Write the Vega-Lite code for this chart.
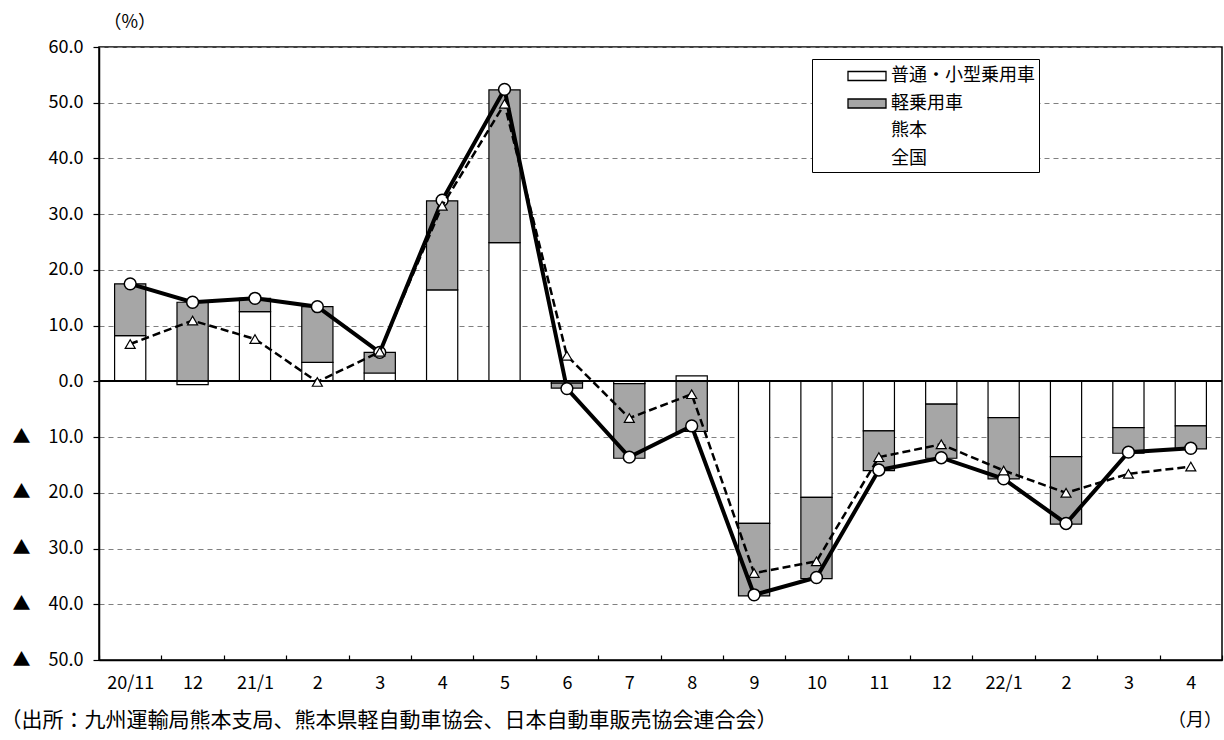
{
  "$schema": "https://vega.github.io/schema/vega-lite/v6.json",
  "width": 1123,
  "height": 613,
  "autosize": {"type": "none"},
  "padding": {"left": 99, "top": 47, "right": 2, "bottom": 80},
  "background": "white",
  "title": {
    "text": "（月）",
    "orient": "bottom",
    "anchor": "end",
    "frame": "group",
    "fontSize": 18,
    "fontWeight": "normal",
    "baseline": "top",
    "offset": -18
  },
  "config": {
    "font": "Noto Sans CJK JP",
    "view": {"stroke": "black", "strokeWidth": 1.5}
  },
  "data": {
    "values": [
      {"month": "20/11", "普通・小型乗用車": 8.2, "軽乗用車": 9.3, "熊本": 17.5, "全国": 6.7},
      {"month": "20/12", "普通・小型乗用車": -0.6, "軽乗用車": 14.2, "熊本": 14.2, "全国": 10.9},
      {"month": "21/1", "普通・小型乗用車": 12.5, "軽乗用車": 2.4, "熊本": 14.9, "全国": 7.6},
      {"month": "21/2", "普通・小型乗用車": 3.4, "軽乗用車": 10.0, "熊本": 13.4, "全国": -0.1},
      {"month": "21/3", "普通・小型乗用車": 1.5, "軽乗用車": 3.7, "熊本": 5.2, "全国": 5.3},
      {"month": "21/4", "普通・小型乗用車": 16.4, "軽乗用車": 16.0, "熊本": 32.5, "全国": 31.5},
      {"month": "21/5", "普通・小型乗用車": 24.9, "軽乗用車": 27.4, "熊本": 52.4, "全国": 49.8},
      {"month": "21/6", "普通・小型乗用車": -0.3, "軽乗用車": -0.9, "熊本": -1.3, "全国": 4.6},
      {"month": "21/7", "普通・小型乗用車": -0.4, "軽乗用車": -13.4, "熊本": -13.6, "全国": -6.6},
      {"month": "21/8", "普通・小型乗用車": 1.0, "軽乗用車": -9.0, "熊本": -8.0, "全国": -2.3},
      {"month": "21/9", "普通・小型乗用車": -25.5, "軽乗用車": -13.0, "熊本": -38.3, "全国": -34.4},
      {"month": "21/10", "普通・小型乗用車": -20.8, "軽乗用車": -14.6, "熊本": -35.2, "全国": -32.3},
      {"month": "21/11", "普通・小型乗用車": -8.9, "軽乗用車": -7.1, "熊本": -15.9, "全国": -13.6},
      {"month": "21/12", "普通・小型乗用車": -4.1, "軽乗用車": -9.7, "熊本": -13.7, "全国": -11.3},
      {"month": "22/1", "普通・小型乗用車": -6.5, "軽乗用車": -11.0, "熊本": -17.5, "全国": -16.0},
      {"month": "22/2", "普通・小型乗用車": -13.5, "軽乗用車": -12.1, "熊本": -25.5, "全国": -20.0},
      {"month": "22/3", "普通・小型乗用車": -8.3, "軽乗用車": -4.6, "熊本": -12.7, "全国": -16.6},
      {"month": "22/4", "普通・小型乗用車": -8.0, "軽乗用車": -4.1, "熊本": -12.0, "全国": -15.3}
    ]
  },
  "encoding": {
    "x": {
      "field": "month",
      "type": "nominal",
      "sort": null,
      "scale": {"paddingInner": 0, "paddingOuter": 0},
      "axis": {
        "labelAngle": 0,
        "labelExpr": "(datum.value == '20/11' || split(datum.value, '/')[1] == '1') ? datum.value : split(datum.value, '/')[1]",
        "labelFontSize": 18,
        "labelColor": "black",
        "labelPadding": 19,
        "tickBand": "extent",
        "tickSize": -5,
        "tickColor": "black",
        "tickWidth": 1.2,
        "domainColor": "black",
        "domainWidth": 1.5,
        "title": "（出所：九州運輸局熊本支局、熊本県軽自動車協会、日本自動車販売協会連合会）",
        "titleFontSize": 21,
        "titleFontWeight": "normal",
        "titleAlign": "left",
        "titleBaseline": "middle",
        "titleX": -99,
        "titleY": 60,
        "titleColor": "black"
      }
    }
  },
  "layer": [
    {
      "transform": [{"fold": ["普通・小型乗用車", "軽乗用車"], "as": ["series", "value"]}],
      "mark": {"type": "bar", "width": {"band": 0.5}, "stroke": "black", "strokeWidth": 1.2},
      "encoding": {
        "y": {
          "field": "value",
          "type": "quantitative",
          "stack": "zero",
          "scale": {"domain": [-50, 60], "nice": false, "zero": false},
          "axis": {"values": [-50, -40, -30, -20, -10, 0, 10, 20, 30, 40, 50, 60], "labelExpr": "datum.value < 0 ? '▲　' + format(-datum.value, '.1f') : format(datum.value, '.1f')", "labelFontSize": 18, "labelColor": "black", "labelPadding": 10, "tickSize": 6, "tickColor": "black", "tickWidth": 1.2, "domainColor": "black", "domainWidth": 1.5, "grid": true, "gridColor": "#808080", "gridDash": [5, 4], "gridWidth": 1.2, "title": "（%）", "titleAngle": 0, "titleFontSize": 18, "titleFontWeight": "normal", "titleAlign": "left", "titleBaseline": "middle", "titleX": 4, "titleY": -25, "titleColor": "black"}
        },
        "fill": {
          "field": "series",
          "type": "nominal",
          "scale": {
            "domain": ["普通・小型乗用車", "軽乗用車", "熊本", "全国"],
            "range": ["white", "#a6a6a6", "white", "white"]
          },
          "legend": {
            "orient": "none",
            "legendX": 713,
            "legendY": 12,
            "title": null,
            "strokeColor": "black",
            "fillColor": "white",
            "padding": 4,
            "symbolType": "M1.583,-0.375H4.75V0.375H1.583Z",
            "symbolSize": 576,
            "symbolStrokeColor": "black",
            "symbolStrokeWidth": 1.3,
            "symbolOpacity": 1,
            "labelFontSize": 18,
            "labelColor": "black",
            "labelOffset": 49,
            "rowPadding": 5.5,
            "labelLimit": 300,
            "encode": {"legend": {"strokeWidth": {"value": 1.5}}}
          }
        },
        "order": {"field": "series", "sort": "ascending"}
      }
    },
    {
      "mark": {"type": "rule", "color": "black", "strokeWidth": 1.5},
      "encoding": {
        "y": {"datum": 0, "axis": {"values": [-50, -40, -30, -20, -10, 0, 10, 20, 30, 40, 50, 60], "labelExpr": "datum.value < 0 ? '▲　' + format(-datum.value, '.1f') : format(datum.value, '.1f')", "labelFontSize": 18, "labelColor": "black", "labelPadding": 10, "tickSize": 6, "tickColor": "black", "tickWidth": 1.2, "domainColor": "black", "domainWidth": 1.5, "grid": true, "gridColor": "#808080", "gridDash": [5, 4], "gridWidth": 1.2, "title": "（%）", "titleAngle": 0, "titleFontSize": 18, "titleFontWeight": "normal", "titleAlign": "left", "titleBaseline": "middle", "titleX": 4, "titleY": -25, "titleColor": "black"}},
        "x": {"value": 0},
        "x2": {"value": 1123}
      }
    },
    {
      "mark": {"type": "line", "color": "black", "strokeWidth": 4},
      "encoding": {"y": {"field": "熊本", "type": "quantitative", "axis": {"values": [-50, -40, -30, -20, -10, 0, 10, 20, 30, 40, 50, 60], "labelExpr": "datum.value < 0 ? '▲　' + format(-datum.value, '.1f') : format(datum.value, '.1f')", "labelFontSize": 18, "labelColor": "black", "labelPadding": 10, "tickSize": 6, "tickColor": "black", "tickWidth": 1.2, "domainColor": "black", "domainWidth": 1.5, "grid": true, "gridColor": "#808080", "gridDash": [5, 4], "gridWidth": 1.2, "title": "（%）", "titleAngle": 0, "titleFontSize": 18, "titleFontWeight": "normal", "titleAlign": "left", "titleBaseline": "middle", "titleX": 4, "titleY": -25, "titleColor": "black"}}}
    },
    {
      "mark": {"type": "point", "shape": "circle", "filled": true, "fill": "white", "stroke": "black", "strokeWidth": 1.5, "size": 140, "opacity": 1},
      "encoding": {"y": {"field": "熊本", "type": "quantitative", "axis": {"values": [-50, -40, -30, -20, -10, 0, 10, 20, 30, 40, 50, 60], "labelExpr": "datum.value < 0 ? '▲　' + format(-datum.value, '.1f') : format(datum.value, '.1f')", "labelFontSize": 18, "labelColor": "black", "labelPadding": 10, "tickSize": 6, "tickColor": "black", "tickWidth": 1.2, "domainColor": "black", "domainWidth": 1.5, "grid": true, "gridColor": "#808080", "gridDash": [5, 4], "gridWidth": 1.2, "title": "（%）", "titleAngle": 0, "titleFontSize": 18, "titleFontWeight": "normal", "titleAlign": "left", "titleBaseline": "middle", "titleX": 4, "titleY": -25, "titleColor": "black"}}}
    },
    {
      "mark": {"type": "line", "color": "black", "strokeWidth": 2.5, "strokeDash": [8, 4]},
      "encoding": {"y": {"field": "全国", "type": "quantitative", "axis": {"values": [-50, -40, -30, -20, -10, 0, 10, 20, 30, 40, 50, 60], "labelExpr": "datum.value < 0 ? '▲　' + format(-datum.value, '.1f') : format(datum.value, '.1f')", "labelFontSize": 18, "labelColor": "black", "labelPadding": 10, "tickSize": 6, "tickColor": "black", "tickWidth": 1.2, "domainColor": "black", "domainWidth": 1.5, "grid": true, "gridColor": "#808080", "gridDash": [5, 4], "gridWidth": 1.2, "title": "（%）", "titleAngle": 0, "titleFontSize": 18, "titleFontWeight": "normal", "titleAlign": "left", "titleBaseline": "middle", "titleX": 4, "titleY": -25, "titleColor": "black"}}}
    },
    {
      "mark": {"type": "point", "shape": "triangle-up", "filled": true, "fill": "white", "stroke": "black", "strokeWidth": 1.2, "size": 100, "opacity": 1},
      "encoding": {"y": {"field": "全国", "type": "quantitative", "axis": {"values": [-50, -40, -30, -20, -10, 0, 10, 20, 30, 40, 50, 60], "labelExpr": "datum.value < 0 ? '▲　' + format(-datum.value, '.1f') : format(datum.value, '.1f')", "labelFontSize": 18, "labelColor": "black", "labelPadding": 10, "tickSize": 6, "tickColor": "black", "tickWidth": 1.2, "domainColor": "black", "domainWidth": 1.5, "grid": true, "gridColor": "#808080", "gridDash": [5, 4], "gridWidth": 1.2, "title": "（%）", "titleAngle": 0, "titleFontSize": 18, "titleFontWeight": "normal", "titleAlign": "left", "titleBaseline": "middle", "titleX": 4, "titleY": -25, "titleColor": "black"}}}
    },
    {
      "transform": [{"fold": ["熊本", "全国"], "as": ["series", "value"]}],
      "mark": {"type": "point", "filled": true, "fill": "white", "stroke": "black", "opacity": 0},
      "encoding": {
        "y": {"field": "value", "type": "quantitative", "axis": {"values": [-50, -40, -30, -20, -10, 0, 10, 20, 30, 40, 50, 60], "labelExpr": "datum.value < 0 ? '▲　' + format(-datum.value, '.1f') : format(datum.value, '.1f')", "labelFontSize": 18, "labelColor": "black", "labelPadding": 10, "tickSize": 6, "tickColor": "black", "tickWidth": 1.2, "domainColor": "black", "domainWidth": 1.5, "grid": true, "gridColor": "#808080", "gridDash": [5, 4], "gridWidth": 1.2, "title": "（%）", "titleAngle": 0, "titleFontSize": 18, "titleFontWeight": "normal", "titleAlign": "left", "titleBaseline": "middle", "titleX": 4, "titleY": -25, "titleColor": "black"}},
        "shape": {
          "field": "series",
          "type": "nominal",
          "scale": {
            "domain": ["熊本", "全国"],
            "range": [
              "M1.583,0H2.807M3.527,0H4.75M3.527,0A0.36,0.36,0,1,1,2.807,0A0.36,0.36,0,1,1,3.527,0Z",
              "M1.583,0H2.0M2.167,0H2.583M3.75,0H4.167M4.333,0H4.75M3.2,-0.28L3.48,0.22H2.92Z"
            ]
          },
          "legend": {
            "orient": "none",
            "legendX": 717,
            "legendY": 71,
            "title": null,
            "fillColor": "white",
            "padding": 0,
            "symbolSize": 576,
            "symbolStrokeColor": "black",
            "symbolStrokeWidth": 2,
            "symbolOpacity": 1,
            "labelFontSize": 18,
            "labelColor": "black",
            "labelOffset": 49,
            "rowPadding": 5.5,
            "labelLimit": 300
          }
        }
      }
    }
  ]
}
